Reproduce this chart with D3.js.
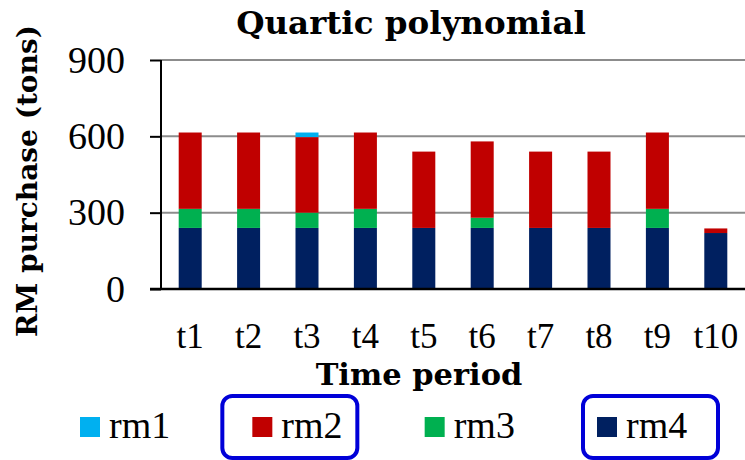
<!DOCTYPE html>
<html>
<head>
<meta charset="utf-8">
<script src="https://cdn.jsdelivr.net/npm/d3@7"></script>
<style>
  body { margin: 0; background: #fff; }
  svg { display: block; }
</style>
</head>
<body>
<svg width="745" height="460"></svg>
<script>
// data
const periods = ['t1','t2','t3','t4','t5','t6','t7','t8','t9','t10']
const rm1 = [0, 0, 18, 0, 0, 0, 0, 0, 0, 0]
const rm2 = [300, 300, 297, 300, 300, 300, 300, 300, 300, 18]
const rm3 = [75, 75, 60, 75, 0, 40, 0, 0, 75, 0]
const rm4 = [240, 240, 240, 240, 240, 240, 240, 240, 240, 220]
const yTicks = [0, 300, 600, 900]
const seriesNames = ['rm1','rm2','rm3','rm4']
const highlighted = ['rm2','rm4']

const colors = {rm1:'#00b0f0', rm2:'#c00000', rm3:'#00b050', rm4:'#002060'}

const svg = d3.select('svg')
const width = +svg.attr('width')
const height = +svg.attr('height')

const margin = {top:60, right:0, bottom:171, left:161}
const innerWidth = width - margin.left - margin.right
const innerHeight = height - margin.top - margin.bottom

const table = periods.map((p,i) => ({period:p, rm1:rm1[i], rm2:rm2[i], rm3:rm3[i], rm4:rm4[i]}))
// bottom to top: rm4, rm3, rm2, rm1
const stack = d3.stack().keys(['rm4','rm3','rm2','rm1'])
const layers = stack(table)

const xScale = d3.scaleBand()
    .domain(periods)
    .range([0, innerWidth])
    .paddingInner(0.606)
    .paddingOuter(0.303)

const yScale = d3.scaleLinear()
    .domain([0, 900])
    .range([innerHeight, 0])

const serif = "'Liberation Serif', 'Times New Roman', serif"
const boldSerif = "'DejaVu Serif', serif"

const g = svg.append('g')
    .attr('transform', `translate(${margin.left},${margin.top})`)

// gridlines
g.append('g').selectAll('line').data(yTicks.filter(d => d > 0))
  .enter().append('line')
    .attr('x1', 0).attr('x2', innerWidth)
    .attr('y1', d => yScale(d)).attr('y2', d => yScale(d))
    .attr('stroke', '#8c8c8c').attr('stroke-width', 2)

// bars
g.append('g').selectAll('g').data(layers)
  .enter().append('g')
    .attr('fill', d => colors[d.key])
  .selectAll('rect').data(d => d.filter(s => s[1] > s[0]))
  .enter().append('rect')
    .attr('x', d => xScale(d.data.period))
    .attr('y', d => yScale(d[1]))
    .attr('width', xScale.bandwidth())
    .attr('height', d => yScale(d[0]) - yScale(d[1]))

// y axis
const yAxis = g.append('g')
    .call(d3.axisLeft(yScale).tickValues(yTicks).tickSize(11).tickPadding(25))
    .attr('font-family', serif).attr('font-size', 38)
yAxis.select('.domain').attr('stroke', '#000').attr('stroke-width', 2)
    .attr('d', `M0,${innerHeight}V0`)
yAxis.selectAll('.tick line').attr('stroke', '#000').attr('stroke-width', 2)
yAxis.selectAll('.tick text').attr('fill', '#000')

// x axis
const xAxis = g.append('g')
    .attr('transform', `translate(0,${innerHeight})`)
    .call(d3.axisBottom(xScale).tickSize(0).tickPadding(34))
    .attr('font-family', serif).attr('font-size', 35)
xAxis.select('.domain').attr('stroke', '#000').attr('stroke-width', 2.5)
    .attr('d', `M-11,0H${innerWidth}`)
xAxis.selectAll('.tick text').attr('fill', '#000')

// title
svg.append('text')
    .attr('x', 411).attr('y', 34)
    .attr('text-anchor', 'middle')
    .attr('font-family', boldSerif).attr('font-weight', 'bold').attr('font-size', 32.5)
    .text('Quartic polynomial')

// axis titles
svg.append('text')
    .attr('x', 419).attr('y', 385)
    .attr('text-anchor', 'middle')
    .attr('font-family', boldSerif).attr('font-weight', 'bold').attr('font-size', 30.5)
    .text('Time period')

svg.append('text')
    .attr('transform', 'translate(37,181) rotate(-90)')
    .attr('text-anchor', 'middle')
    .attr('font-family', boldSerif).attr('font-weight', 'bold').attr('font-size', 28)
    .text('RM purchase (tons)')

// legend
const legendX = d3.scalePoint().domain(seriesNames).range([80, 597])
const boxOffset = {rm2: -30, rm4: -14}
const legend = svg.append('g')
    .attr('font-family', serif).attr('font-size', 38)
const items = legend.selectAll('g').data(seriesNames)
  .enter().append('g')
    .attr('transform', d => `translate(${legendX(d)},417)`)
items.filter(d => highlighted.includes(d)).append('rect')
    .attr('x', d => boxOffset[d]).attr('y', -21)
    .attr('width', 135).attr('height', 62)
    .attr('rx', 10)
    .attr('fill', 'none').attr('stroke', '#0000d8').attr('stroke-width', 4)
items.append('rect')
    .attr('width', 20).attr('height', 20)
    .attr('fill', d => colors[d])
items.append('text')
    .attr('x', 29).attr('y', 21)
    .text(d => d)
</script>
</body>
</html>
